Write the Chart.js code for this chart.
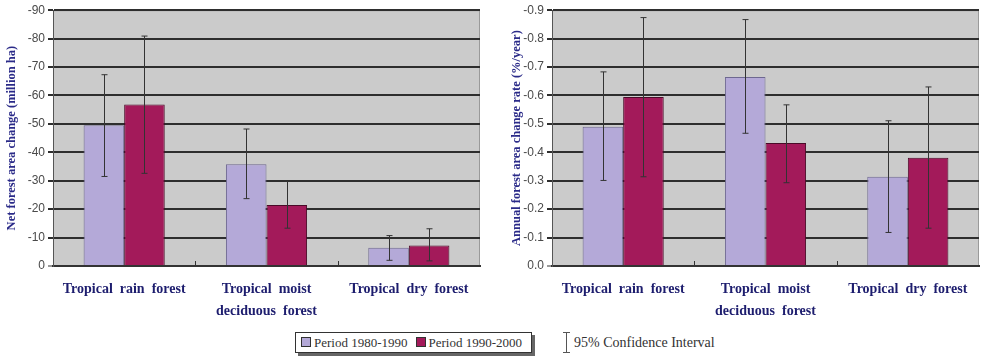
<!DOCTYPE html>
<html>
<head>
<meta charset="utf-8">
<script src="https://cdn.jsdelivr.net/npm/chart.js@4.4.0/dist/chart.umd.min.js"></script>
<style>
  body { margin: 0; background: #fff; width: 986px; height: 360px; position: relative; overflow: hidden; font-family: "Liberation Serif", "Times New Roman", serif; }
  #c1 { position: absolute; left: 0; top: 0; }
  #c2 { position: absolute; left: 490px; top: 0; }
  #legend { position: absolute; left: 295px; top: 332px; height: 19px; padding: 0 3px; border: 1px solid #333; background: #fff; box-shadow: 3px 3px 0 #666; font-size: 13px; line-height: 19px; color: #333; white-space: nowrap; }
  #legend .sw { display: inline-block; width: 8px; height: 8px; border: 1px solid #333; margin: 0 3px 0 2px; vertical-align: 0; }
  #legend .item { margin-right: 6px; }
  #ci { position: absolute; left: 563px; top: 332px; font-size: 14px; color: #333; line-height: 21px; white-space: nowrap; }
  #ci .bar { display: inline-block; position: relative; width: 7px; height: 21px; vertical-align: top; margin-right: 4px; }
  #ci .bar:before { content: ""; position: absolute; left: 3px; top: 0; width: 1px; height: 21px; background: #555; }
  #ci .bar:after { content: ""; position: absolute; left: 0; top: 0; width: 7px; height: 19px; border-top: 1px solid #555; border-bottom: 1px solid #555; }
</style>
</head>
<body>
<canvas id="c1" width="490" height="330"></canvas>
<canvas id="c2" width="496" height="330"></canvas>
<div id="legend"></div>
<div id="ci"><span class="bar"></span>95% Confidence Interval</div>
<script>
// categories and series
var categories = [["Tropical  rain  forest"], ["Tropical  moist", "deciduous  forest"], ["Tropical  dry  forest"]];
var seriesNames = ["Period 1980-1990", "Period 1990-2000"];
var seriesColors = ["#b4a9d8", "#a31a5a"];

// net forest area change (million ha)
var areaChange8090 = [-49.5, -35.8, -6.4];
var areaChange9000 = [-56.8, -21.5, -7.2];
var areaHigh8090 = [-67.3, -48.2, -10.7];
var areaLow8090 = [-31.5, -23.7, -2.0];
var areaHigh9000 = [-80.9, -29.9, -13.1];
var areaLow9000 = [-32.6, -13.3, -1.8];

// annual forest area change rate (%/year)
var rate8090 = [-0.49, -0.665, -0.314];
var rate9000 = [-0.595, -0.433, -0.381];
var rateHigh8090 = [-0.683, -0.867, -0.511];
var rateLow8090 = [-0.301, -0.467, -0.118];
var rateHigh9000 = [-0.874, -0.567, -0.630];
var rateLow9000 = [-0.314, -0.293, -0.133];

var plotBg = {
  id: 'plotBg',
  beforeDraw: function(chart) {
    var a = chart.chartArea, c = chart.ctx;
    c.save();
    c.fillStyle = '#cbcbcb';
    c.fillRect(a.left, a.top, a.right - a.left, a.bottom - a.top);
    c.strokeStyle = '#9a9a9a';
    c.lineWidth = 1;
    c.strokeRect(a.left + 0.5, a.top + 0.5, a.right - a.left - 1, a.bottom - a.top);
    c.restore();
  }
};

var errorBars = {
  id: 'errorBars',
  afterDatasetsDraw: function(chart) {
    var c = chart.ctx, y = chart.scales.y, x = chart.scales.x;
    c.save();
    c.strokeStyle = '#333';
    c.lineWidth = 1;
    chart.data.datasets.forEach(function(ds, i) {
      chart.getDatasetMeta(i).data.forEach(function(bar, j) {
        var top = y.getPixelForValue(ds.errHigh[j]);
        var bot = y.getPixelForValue(ds.errLow[j]);
        var bx = Math.round(bar.x) + 0.5;
        c.beginPath();
        c.moveTo(bx, top); c.lineTo(bx, bot);
        c.moveTo(bx - 3, top); c.lineTo(bx + 3, top);
        c.moveTo(bx - 3, bot); c.lineTo(bx + 3, bot);
        c.stroke();
      });
    });
    // small tick marks between categories
    for (var k = 1; k < chart.data.labels.length; k++) {
      var mx = Math.round((x.getPixelForValue(k - 1) + x.getPixelForValue(k)) / 2) + 0.5;
      c.beginPath();
      c.moveTo(mx, chart.chartArea.bottom);
      c.lineTo(mx, chart.chartArea.bottom - 5);
      c.stroke();
    }
    c.restore();
  }
};

function makeChart(id, v1, v2, h1, l1, h2, l2, yMin, step, title, leftWidth, titlePad, rightPad, decimals) {
  return new Chart(document.getElementById(id), {
    type: 'bar',
    data: {
      labels: categories,
      datasets: [{
        label: seriesNames[0],
        data: v1,
        errHigh: h1,
        errLow: l1,
        backgroundColor: seriesColors[0],
        borderColor: '#6e6890',
        borderWidth: 1
      }, {
        label: seriesNames[1],
        data: v2,
        errHigh: h2,
        errLow: l2,
        backgroundColor: seriesColors[1],
        borderColor: '#4a0a28',
        borderWidth: 1
      }]
    },
    options: {
      responsive: false,
      animation: false,
      layout: { padding: { top: 9, right: rightPad, bottom: 0, left: 0 } },
      datasets: { bar: { barPercentage: 1, categoryPercentage: 0.57 } },
      plugins: { legend: { display: false }, tooltip: { enabled: false } },
      scales: {
        x: {
          grid: { display: false },
          border: { color: '#333', width: 2 },
          ticks: {
            color: '#1d1d6e',
            font: { family: 'Liberation Serif', size: 14, weight: 'bold', lineHeight: 1.6 },
            padding: 4,
            maxRotation: 0
          },
          afterFit: function(s) { s.height = 64; }
        },
        y: {
          reverse: true,
          min: yMin,
          max: 0,
          ticks: {
            stepSize: step,
            color: '#4a4a4a',
            font: { family: 'Liberation Sans', size: 12 },
            padding: 3,
            callback: function(v) { return decimals ? v.toFixed(decimals) : v; }
          },
          grid: {
            color: function(ctx) { return ctx.index === 0 ? '#9a9a9a' : '#2e2e2e'; },
            lineWidth: 2,
            tickLength: 5
          },
          border: { color: '#555', width: 1 },
          title: {
            display: true,
            text: title,
            color: '#2a2a88',
            font: { family: 'Liberation Serif', size: 12.5, weight: 'bold' },
            padding: { top: titlePad, bottom: 0 }
          },
          afterFit: function(s) { s.width = leftWidth; }
        }
      }
    },
    plugins: [plotBg, errorBars]
  });
}

makeChart('c1', areaChange8090, areaChange9000, areaHigh8090, areaLow8090, areaHigh9000, areaLow9000,
  -90, 10, 'Net forest area change (million ha)', 53, 4, 10, 0);
makeChart('c2', rate8090, rate9000, rateHigh8090, rateLow8090, rateHigh9000, rateLow9000,
  -0.9, 0.1, 'Annual forest area change rate (%/year)', 62, 19, 7, 1);

var lg = document.getElementById('legend');
seriesNames.forEach(function(n, i) {
  var s = document.createElement('span');
  s.className = 'item';
  s.innerHTML = '<span class="sw" style="background:' + seriesColors[i] + '"></span>' + n;
  lg.appendChild(s);
});
</script>
</body>
</html>
